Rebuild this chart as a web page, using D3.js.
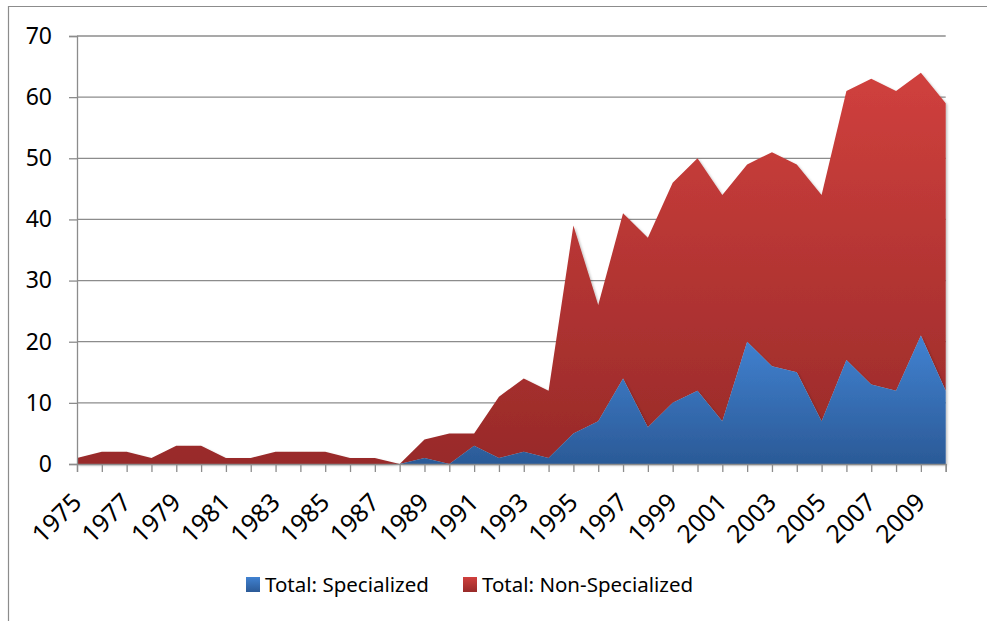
<!DOCTYPE html>
<html>
<head>
<meta charset="utf-8">
<script src="https://cdn.jsdelivr.net/npm/d3@7/dist/d3.min.js"></script>
<style>
  body { margin: 0; background: #fff; }
  svg { display: block; font-family: "Noto Sans", "Open Sans", sans-serif; }
</style>
</head>
<body>
<svg id="chart" width="987" height="621"></svg>
<script>
// data
const years = d3.range(1975, 2011);
const specialized = [0, 0, 0, 0, 0, 0, 0, 0, 0, 0, 0, 0, 0, 0, 1, 0, 3, 1, 2, 1,
                     5, 7, 14, 6, 10, 12, 7, 20, 16, 15, 7, 17, 13, 12, 21, 12];
const totals = [1, 2, 2, 1, 3, 3, 1, 1, 2, 2, 2, 1, 1, 0, 4, 5, 5, 11, 14, 12,
                39, 26, 41, 37, 46, 50, 44, 49, 51, 49, 44, 61, 63, 61, 64, 59];
const nonSpecialized = totals.map((t, i) => t - specialized[i]);
const seriesNames = ['Total: Specialized', 'Total: Non-Specialized'];
const yTicks = [0, 10, 20, 30, 40, 50, 60, 70];

const width = 987;
const height = 621;
const margin = { top: 36, right: 41, bottom: 157, left: 77 };

const svg = d3.select('#chart');

// outer frame (left and top edges visible)
svg.append('path')
    .attr('d', `M8.5,${height} V6.5 H${width}`)
    .attr('fill', 'none')
    .attr('stroke', '#8c8c8c')
    .attr('stroke-width', 1.2);

const x = d3.scaleLinear()
    .domain([1975, 2010])
    .range([margin.left, width - margin.right - 0.3]);

const y = d3.scaleLinear()
    .domain([0, 70])
    .range([height - margin.bottom, margin.top]);

const defs = svg.append('defs');
const grads = [
    { id: 'gBlue', top: '#4182d1', bottom: '#2b5a97' },
    { id: 'gRed', top: '#d0403d', bottom: '#982a29' }
];
grads.forEach(g => {
    const lg = defs.append('linearGradient')
        .attr('id', g.id)
        .attr('x1', 0).attr('y1', 0).attr('x2', 0).attr('y2', 1);
    lg.append('stop').attr('offset', '0%').attr('stop-color', g.top);
    lg.append('stop').attr('offset', '100%').attr('stop-color', g.bottom);
});
const shadow = defs.append('filter').attr('id', 'shadow')
    .attr('x', '-5%').attr('y', '-5%').attr('width', '110%').attr('height', '110%');
shadow.append('feDropShadow')
    .attr('dx', 1.5).attr('dy', 1.5).attr('stdDeviation', 1.2)
    .attr('flood-color', '#000').attr('flood-opacity', 0.25);

// gridlines
svg.append('g')
    .selectAll('line')
    .data(yTicks.filter(d => d > 0))
    .enter()
    .append('line')
    .attr('x1', margin.left)
    .attr('x2', x(2010))
    .attr('y1', d => y(d))
    .attr('y2', d => y(d))
    .attr('stroke', '#8c8c8c')
    .attr('stroke-width', 1.3);

// stacked areas
const table = years.map((yr, i) => ({ year: yr, s: specialized[i], n: nonSpecialized[i] }));
const stack = d3.stack().keys(['s', 'n'])(table);
const area = d3.area()
    .x(d => x(d.data.year))
    .y0(d => y(d[0]))
    .y1(d => y(d[1]));

svg.append('g')
    .selectAll('path')
    .data(stack.slice().reverse())
    .enter()
    .append('path')
    .attr('d', area)
    .attr('fill', d => d.key === 's' ? 'url(#gBlue)' : 'url(#gRed)')
    .attr('filter', 'url(#shadow)');

// y axis
const yAxis = svg.append('g')
    .attr('transform', `translate(${margin.left},0)`)
    .call(d3.axisLeft(y).tickValues(yTicks).tickSize(8).tickPadding(17));
yAxis.select('.domain').attr('stroke', '#8c8c8c').attr('stroke-width', 1.3);
yAxis.selectAll('.tick line').attr('stroke', '#8c8c8c').attr('stroke-width', 1.3);
yAxis.selectAll('.tick text')
    .attr('font-size', 23)
    .attr('fill', '#000')
    .attr('font-family', '"Noto Sans", sans-serif');

// x axis
const xAxis = svg.append('g')
    .attr('transform', `translate(0,${y(0)})`)
    .call(d3.axisBottom(x).tickValues(years).tickSize(8).tickFormat(''));
xAxis.select('.domain').attr('stroke', '#8c8c8c').attr('stroke-width', 1.3);
xAxis.selectAll('.tick line').attr('stroke', '#8c8c8c').attr('stroke-width', 1.3);

svg.append('g')
    .selectAll('text')
    .data(years.filter(yr => (yr - 1975) % 2 === 0))
    .enter()
    .append('text')
    .attr('transform', d => `translate(${x(d) + 6},${y(0) + 40}) rotate(-45)`)
    .attr('text-anchor', 'end')
    .attr('font-size', 25)
    .attr('fill', '#000')
    .text(d => d);

// legend
const legendItems = [
    { name: seriesNames[0], fill: 'url(#gBlue)', x: 246 },
    { name: seriesNames[1], fill: 'url(#gRed)', x: 463 }
];
const legend = svg.append('g');
legendItems.forEach(item => {
    legend.append('rect')
        .attr('x', item.x)
        .attr('y', 577)
        .attr('width', 14)
        .attr('height', 15)
        .attr('fill', item.fill);
    legend.append('text')
        .attr('x', item.x + 19)
        .attr('y', 592)
        .attr('font-size', 20.5)
        .attr('fill', '#000')
        .text(item.name);
});
</script>
</body>
</html>
